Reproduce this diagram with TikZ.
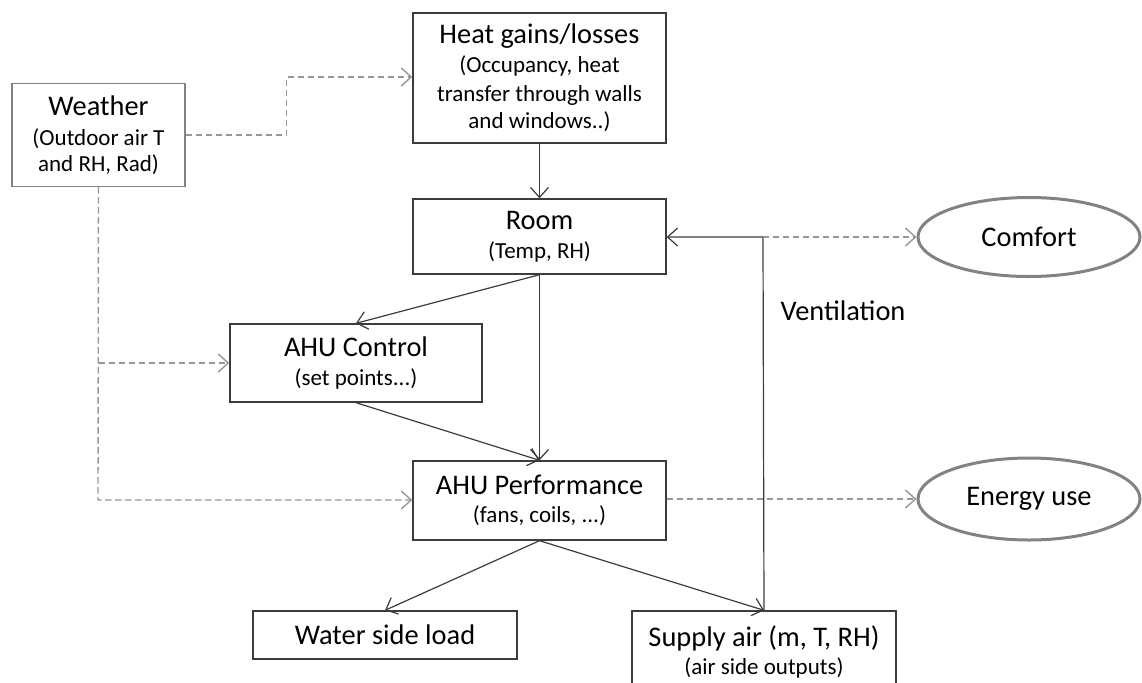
\documentclass[tikz,border=0pt]{standalone}
\usepackage{fontspec}
\setmainfont{Carlito}
\usetikzlibrary{arrows.meta, positioning, shapes.geometric}

\definecolor{linegray}{RGB}{60,60,60}
\definecolor{dashgray}{RGB}{150,150,150}
\definecolor{ovalgray}{RGB}{130,130,130}
\newcommand{\subtxt}{\fontsize{11.5}{14.3}\selectfont}

\begin{document}
\begin{tikzpicture}[
                x=0.5pt, y=-0.5pt,
                every node/.style={align=center, inner sep=0pt, font=\fontsize{14.2}{14.3}\selectfont},
                box/.style={draw=linegray, line width=0.7pt, rectangle},
                oval/.style={draw=ovalgray, line width=1.5pt, ellipse},
                arrow/.style={-{Straight Barb[length=5pt, width=9pt]}, linegray, line width=0.6pt},
                dasharrow/.style={-{Straight Barb[length=5pt, width=9pt]}, dashgray, line width=0.7pt, dash pattern=on 3.2pt off 1.8pt}]
            \useasboundingbox (0,0) rectangle (1142,682);

            % Boxes
            \node[box, draw=ovalgray, minimum width=86.5pt, minimum height=51.5pt] (weather) at (98.5,135)
                {Weather\\[1pt] \subtxt (Outdoor air T\\[-1.5pt] \subtxt and RH, Rad)};
            \node[box, minimum width=126.5pt, minimum height=65pt] (heat) at (539.5,78)
                {Heat gains/losses\\ \subtxt (Occupancy, heat\\ \subtxt transfer through walls\\[-0.5pt] \subtxt and windows..)};
            \node[box, minimum width=126.5pt, minimum height=37.5pt] (room) at (539.5,236.5)
                {Room\\ \subtxt (Temp, RH)};
            \node[box, minimum width=126pt, minimum height=39pt] (ctrl) at (356,363)
                {AHU Control\\ \subtxt (set points...)};
            \node[box, minimum width=126.5pt, minimum height=39.5pt] (perf) at (539.5,500.5)
                {AHU Performance\\ \subtxt (fans, coils, ...)};
            \node[box, minimum width=132pt, minimum height=24pt] (water) at (385,635)
                {Water side load};
            \node[box, minimum width=132pt, minimum height=41pt] (supply) at (764,652)
                {Supply air (m, T, RH)\\ \subtxt (air side outputs)};

            % Ovals
            \node[oval, minimum width=111pt, minimum height=39.5pt] (comfort) at (1029,237) {Comfort};
            \node[oval, minimum width=111pt, minimum height=41pt] (energy) at (1029,499) {Energy use};
            \node (vent) at (843,311) {Ventilation};

            \coordinate (vtop) at (763,237);
            \coordinate (wcorner) at (98,500);

            % Solid arrows
            \draw[arrow] (heat) -- (room);
            \draw[arrow] (room.south) -- (ctrl.north);
            \draw[arrow] (room.south) -- (perf.north);
            \draw[arrow] (ctrl.south) -- (perf.north);
            \draw[arrow] (perf.south) -- (water.north);
            \draw[arrow] (perf.south) -- (supply.north);
            \draw[arrow] (supply.north) -- (vtop) -- (room.east |- vtop);

            % Dashed arrows
            \draw[dasharrow] (weather.east) -- ++(101,0) |- (heat.west |- 0,77);
            \draw[dasharrow] (weather.south) -- (wcorner) -- (perf.west |- wcorner);
            \draw[dasharrow] (weather.south |- ctrl.west) -- (ctrl.west);
            \draw[dasharrow] (vtop) -- (comfort.west);
            \draw[dasharrow] (perf.east |- energy.west) -- (energy.west);

        \end{tikzpicture}
\end{document}
